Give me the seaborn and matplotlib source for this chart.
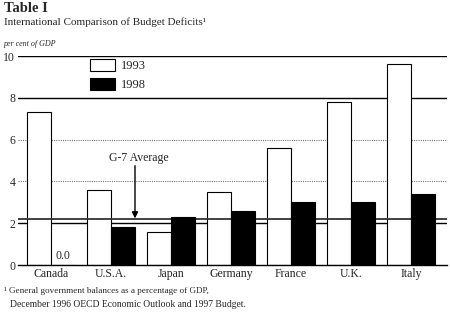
import matplotlib
matplotlib.use("Agg")
import matplotlib.pyplot as plt
import seaborn as sns
import pandas as pd
from matplotlib.patches import Patch

countries = ["Canada", "U.S.A.", "Japan", "Germany", "France", "U.K.", "Italy"]
deficit_1993 = [7.3, 3.6, 1.6, 3.5, 5.6, 7.8, 9.6]
deficit_1998 = [0.0, 1.8, 2.3, 2.6, 3.0, 3.0, 3.4]
years = ["1993", "1998"]
g7_average = 2.2
y_ticks = [0, 2, 4, 6, 8, 10]

df = pd.DataFrame({
    "Country": countries * 2,
    "Year": [years[0]] * len(countries) + [years[1]] * len(countries),
    "Deficit": deficit_1993 + deficit_1998,
})

sns.set_style("white")
plt.rcParams["font.family"] = ["Liberation Serif", "DejaVu Serif"]

fig = plt.figure(figsize=(4.5, 3.22), dpi=100)
ax = fig.add_axes([18 / 450, 1 - 265 / 322, 429 / 450, 209 / 322])

sns.barplot(data=df, x="Country", y="Deficit", hue="Year",
            palette={years[0]: "white", years[1]: "black"},
            edgecolor="black", linewidth=0.8, width=0.8, saturation=1,
            legend=False, ax=ax)

for p in ax.containers[0]:
    p.set_zorder(2)
for p in ax.containers[1]:
    p.set_zorder(4)

for v in [10, 8, 2]:
    ax.axhline(v, color="black", lw=1.0, zorder=1)
for v in [6, 4]:
    ax.axhline(v, color="#777777", lw=0.8, ls=(0, (1, 1)), zorder=1)
ax.axhline(g7_average, color="#333333", lw=1.3, zorder=3)

ax.set_xlim(-0.55, 6.6)
ax.set_ylim(0, 10)
ax.set_yticks(y_ticks)
ax.set_xlabel("")
ax.set_ylabel("")
for s in ["left", "top", "right"]:
    ax.spines[s].set_visible(False)
ax.spines["bottom"].set_color("black")
ax.spines["bottom"].set_linewidth(1.0)
ax.spines["bottom"].set_zorder(5)
ax.tick_params(length=0, labelsize=8.5, pad=2)

# zero value label for Canada 1998
ax.text(0.2, 0.15, "0.0", ha="center", va="bottom", fontsize=8.5)

# G-7 average annotation
ax.text(1.47, 5.1, "G-7 Average", ha="center", va="center", fontsize=8.5)
ax.annotate("", xy=(1.4, g7_average + 0.03), xytext=(1.4, 4.75),
            arrowprops=dict(arrowstyle="-|>", color="black", lw=1,
                            mutation_scale=9, shrinkA=0, shrinkB=0))

handles = [Patch(facecolor="white", edgecolor="black", lw=0.8),
           Patch(facecolor="black", edgecolor="black", lw=0.8)]
ax.legend(handles, years, loc="upper left", bbox_to_anchor=(0.168, 0.985),
          frameon=False, fontsize=9, handlelength=2.0, handleheight=1.1,
          labelspacing=0.45, handletextpad=0.5, borderaxespad=0, borderpad=0)

fig.text(0.008, 1 - 2 / 322, "Table I", fontsize=10.5, fontweight="bold", va="top")
fig.text(0.008, 1 - 17 / 322, "International Comparison of Budget Deficits\u00b9",
         fontsize=8, va="top")
fig.text(0.008, 1 - 40 / 322, "per cent of GDP", fontsize=5.8, style="italic", va="top")
fig.text(0.008, 1 - 287 / 322, "\u00b9 General government balances as a percentage of GDP,",
         fontsize=6.6, va="top")
fig.text(0.022, 1 - 300 / 322, "December 1996 OECD Economic Outlook and 1997 Budget.",
         fontsize=6.9, va="top")

fig.savefig("out.png", dpi=100)
